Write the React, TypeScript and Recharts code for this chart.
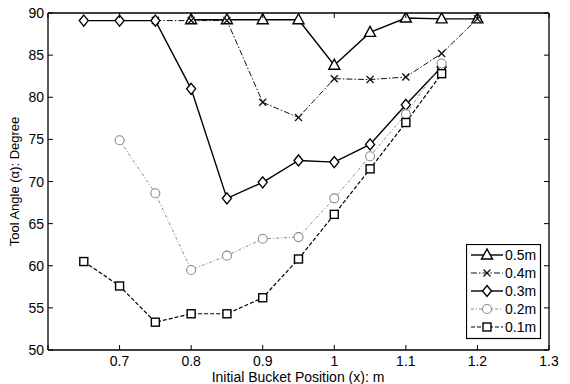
import React from 'react';
import { LineChart, Line, XAxis, YAxis } from 'recharts';

const xTicks = [0.6, 0.7, 0.8, 0.9, 1.0, 1.1, 1.2, 1.3];
const yTicks = [50, 55, 60, 65, 70, 75, 80, 85, 90];

const x05 = [0.8, 0.85, 0.9, 0.95, 1.0, 1.05, 1.1, 1.15, 1.2];
const y05 = [89.2, 89.2, 89.2, 89.2, 83.8, 87.7, 89.4, 89.3, 89.3];
const x04 = [0.75, 0.8, 0.85, 0.9, 0.95, 1.0, 1.05, 1.1, 1.15, 1.2];
const y04 = [89.1, 89.1, 89.1, 79.4, 77.6, 82.2, 82.1, 82.4, 85.2, 89.3];
const x03 = [0.65, 0.7, 0.75, 0.8, 0.85, 0.9, 0.95, 1.0, 1.05, 1.1, 1.15];
const y03 = [89.1, 89.1, 89.1, 81.0, 68.0, 69.9, 72.5, 72.3, 74.4, 79.1, 83.6];
const x02 = [0.7, 0.75, 0.8, 0.85, 0.9, 0.95, 1.0, 1.05, 1.1, 1.15];
const y02 = [74.9, 68.6, 59.5, 61.2, 63.2, 63.4, 68.0, 73.0, 78.0, 84.0];
const x01 = [0.65, 0.7, 0.75, 0.8, 0.85, 0.9, 0.95, 1.0, 1.05, 1.1, 1.15];
const y01 = [60.5, 57.6, 53.3, 54.3, 54.3, 56.2, 60.8, 66.1, 71.5, 77.0, 82.8];

const names = ['0.5m', '0.4m', '0.3m', '0.2m', '0.1m'];

const zip = (xs: number[], ys: number[]) => xs.map((x, i) => ({ x, y: ys[i] }));

type Style = { stroke: string; dash?: string; width: number; marker: string };
const styles: Style[] = [
  { stroke: '#000', width: 1.4, marker: 'triangle' },
  { stroke: '#111', dash: '6 2 1.5 2', width: 1, marker: 'x' },
  { stroke: '#000', width: 1.4, marker: 'diamond' },
  { stroke: '#8a8a8a', dash: '3 2 1 2', width: 1, marker: 'circle' },
  { stroke: '#000', dash: '4 2', width: 1.2, marker: 'square' },
];

const series = [zip(x05, y05), zip(x04, y04), zip(x03, y03), zip(x02, y02), zip(x01, y01)];

function Marker({ kind, cx, cy, color }: { kind: string; cx: number; cy: number; color: string }) {
  const sw = 1.4;
  if (kind === 'triangle') {
    return <polygon points={`${cx},${cy - 6} ${cx - 5.5},${cy + 4} ${cx + 5.5},${cy + 4}`} fill="#fff" stroke={color} strokeWidth={sw} />;
  }
  if (kind === 'x') {
    return (
      <g stroke={color} strokeWidth={1.3}>
        <line x1={cx - 3.5} y1={cy - 3.5} x2={cx + 3.5} y2={cy + 3.5} />
        <line x1={cx - 3.5} y1={cy + 3.5} x2={cx + 3.5} y2={cy - 3.5} />
      </g>
    );
  }
  if (kind === 'diamond') {
    return <polygon points={`${cx},${cy - 5.5} ${cx + 4.5},${cy} ${cx},${cy + 5.5} ${cx - 4.5},${cy}`} fill="#fff" stroke={color} strokeWidth={sw} />;
  }
  if (kind === 'circle') {
    return <circle cx={cx} cy={cy} r={4.5} fill="#fff" stroke={color} strokeWidth={1.1} />;
  }
  return <rect x={cx - 4} y={cy - 4} width={8} height={8} fill="#fff" stroke={color} strokeWidth={sw} />;
}

const makeDot = (s: Style) => (props: any) => {
  const { cx, cy, index } = props;
  if (cx == null || cy == null) return <g key={index} />;
  return <Marker key={index} kind={s.marker} cx={cx} cy={cy} color={s.stroke} />;
};

const font = 'Liberation Sans, Arial, Helvetica, sans-serif';

const BottomTick = (props: any) => {
  const { x, y, payload } = props;
  const v = payload.value;
  return (
    <g>
      <line x1={x} y1={y} x2={x} y2={y - 5} stroke="#000" strokeWidth={1} />
      {Math.abs(v - 0.6) > 1e-6 && (
        <text x={x} y={y + 16} textAnchor="middle" fontSize={14} fontFamily={font} fill="#000">
          {Number.isInteger(v) ? String(v) : v.toFixed(1)}
        </text>
      )}
    </g>
  );
};
const TopTick = (props: any) => {
  const { x, y } = props;
  return <line x1={x} y1={y} x2={x} y2={y + 5} stroke="#000" strokeWidth={1} />;
};
const LeftTick = (props: any) => {
  const { x, y, payload } = props;
  return (
    <g>
      <line x1={x} y1={y} x2={x + 5} y2={y} stroke="#000" strokeWidth={1} />
      <text x={x - 4} y={y + 5} textAnchor="end" fontSize={14} fontFamily={font} fill="#000">
        {payload.value}
      </text>
    </g>
  );
};
const RightTick = (props: any) => {
  const { x, y } = props;
  return <line x1={x} y1={y} x2={x - 5} y2={y} stroke="#000" strokeWidth={1} />;
};

const LegendBox = () => (
  <svg width={76} height={96} style={{ display: 'block' }}>
    <rect x={0.5} y={0.5} width={74} height={94} fill="#fff" stroke="#000" strokeWidth={1.2} />
    {styles.map((s, i) => {
      const yy = 11 + i * 18;
      return (
        <g key={i}>
          <line x1={5} y1={yy} x2={37} y2={yy} stroke={s.stroke} strokeWidth={s.width} strokeDasharray={s.dash} />
          <Marker kind={s.marker} cx={21} cy={yy} color={s.stroke} />
          <text x={39} y={yy + 5} fontSize={14} fontFamily={font} fill="#000">{names[i]}</text>
        </g>
      );
    })}
  </svg>
);

export default function App() {
  return (
    <div style={{ position: 'absolute', left: 0, top: 0, width: 570, height: 384, background: '#fff' }}>
      <LineChart width={570} height={384} margin={{ top: 12, right: 20, bottom: 0, left: 0 }}>
        <XAxis
          xAxisId="b"
          type="number"
          dataKey="x"
          domain={[0.6, 1.3]}
          ticks={xTicks}
          allowDataOverflow
          height={34}
          axisLine={{ stroke: '#000', strokeWidth: 1.3 }}
          tickLine={false}
          tickSize={0}
          tickMargin={0}
          tick={<BottomTick />}
          interval={0}
        />
        <XAxis
          xAxisId="t"
          orientation="top"
          type="number"
          dataKey="x"
          domain={[0.6, 1.3]}
          ticks={xTicks}
          allowDataOverflow
          height={1}
          axisLine={{ stroke: '#000', strokeWidth: 1.3 }}
          tickLine={false}
          tickSize={0}
          tickMargin={0}
          tick={<TopTick />}
          interval={0}
        />
        <YAxis
          yAxisId="l"
          type="number"
          domain={[50, 90]}
          ticks={yTicks}
          allowDataOverflow
          width={48}
          axisLine={{ stroke: '#000', strokeWidth: 1.3 }}
          tickLine={false}
          tickSize={0}
          tickMargin={0}
          tick={<LeftTick />}
          interval={0}
          label={{ value: 'Tool Angle (\u03b1): Degree', angle: -90, position: 'insideLeft', offset: 14, style: { fontSize: 13, fontFamily: font, fill: '#000', textAnchor: 'middle' } }}
        />
        <YAxis
          yAxisId="r"
          orientation="right"
          type="number"
          domain={[50, 90]}
          ticks={yTicks}
          allowDataOverflow
          width={1}
          axisLine={{ stroke: '#000', strokeWidth: 1.3 }}
          tickLine={false}
          tickSize={0}
          tickMargin={0}
          tick={<RightTick />}
          interval={0}
        />
        {series.map((d, i) => (
          <Line
            key={names[i]}
            xAxisId="b"
            yAxisId="l"
            data={d}
            dataKey="y"
            name={names[i]}
            stroke={styles[i].stroke}
            strokeWidth={styles[i].width}
            strokeDasharray={styles[i].dash}
            dot={makeDot(styles[i])}
            activeDot={false}
            isAnimationActive={false}
          />
        ))}
      </LineChart>
      <div style={{ position: 'absolute', left: 466, top: 244 }}>
        <LegendBox />
      </div>
      <div
        style={{
          position: 'absolute',
          left: 0,
          width: 596,
          top: 370,
          height: 14,
          lineHeight: '14px',
          textAlign: 'center',
          fontSize: 14,
          fontFamily: font,
          color: '#000',
        }}
      >
        Initial Bucket Position (x): m
      </div>
    </div>
  );
}
